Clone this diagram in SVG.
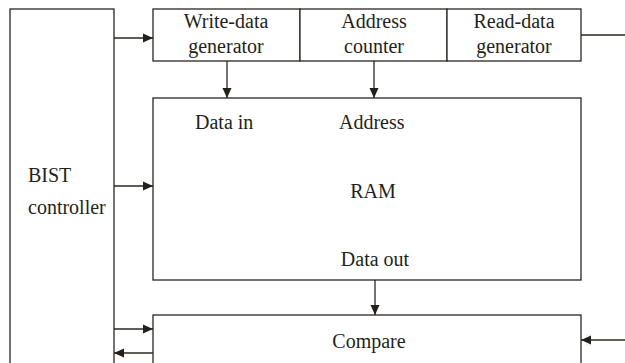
<svg xmlns="http://www.w3.org/2000/svg" width="625" height="363" viewBox="0 0 625 363">
<style>
.b{fill:#fff;stroke:#2b2621;stroke-width:1.3}
.c{fill:none;stroke:#2b2621;stroke-width:1.3}
text{font-family:"Liberation Serif","Times New Roman",serif;font-size:20px;fill:#231f1c}
.m{text-anchor:middle}
</style>
<defs>
<marker id="a" viewBox="0 0 10 10" refX="10" refY="5" markerWidth="10" markerHeight="10" markerUnits="userSpaceOnUse" orient="auto"><path d="M0,0.5 L10,5 L0,9.5 Z" fill="#231f1c"/></marker>
</defs>
<rect width="625" height="363" fill="#fff"/>
<g id="bist"><rect class="b" x="10" y="9" width="104" height="370"/><text x="28" y="182">BIST</text><text x="28" y="214">controller</text></g>
<g id="wdg"><rect class="b" x="153" y="9" width="147" height="52"/><text class="m" x="226" y="28">Write-data</text><text class="m" x="226" y="53">generator</text></g>
<g id="ac"><rect class="b" x="300" y="9" width="147" height="52"/><text class="m" x="374" y="28">Address</text><text class="m" x="374" y="53">counter</text></g>
<g id="rdg"><rect class="b" x="447" y="9" width="134" height="52"/><text class="m" x="514" y="28">Read-data</text><text class="m" x="514" y="53">generator</text></g>
<g id="ram"><rect class="b" x="153" y="98" width="428" height="182"/><text x="195" y="129">Data in</text><text x="339" y="129">Address</text><text class="m" x="373" y="198">RAM</text><text class="m" x="375" y="266">Data out</text></g>
<g id="compare"><rect class="b" x="153" y="315" width="428" height="70"/><text class="m" x="369" y="348">Compare</text></g>
<g id="connectors">
<line class="c" x1="114" y1="38" x2="153" y2="38" marker-end="url(#a)"/>
<line class="c" x1="227" y1="61" x2="227" y2="98" marker-end="url(#a)"/>
<line class="c" x1="374" y1="61" x2="374" y2="98" marker-end="url(#a)"/>
<line class="c" x1="581" y1="35" x2="625" y2="35"/>
<line class="c" x1="114" y1="186" x2="153" y2="186" marker-end="url(#a)"/>
<line class="c" x1="375" y1="280" x2="375" y2="315" marker-end="url(#a)"/>
<line class="c" x1="114" y1="329" x2="153" y2="329" marker-end="url(#a)"/>
<line class="c" x1="153" y1="353" x2="114" y2="353" marker-end="url(#a)"/>
<line class="c" x1="625" y1="340" x2="581" y2="340" marker-end="url(#a)"/>
</g>
</svg>
